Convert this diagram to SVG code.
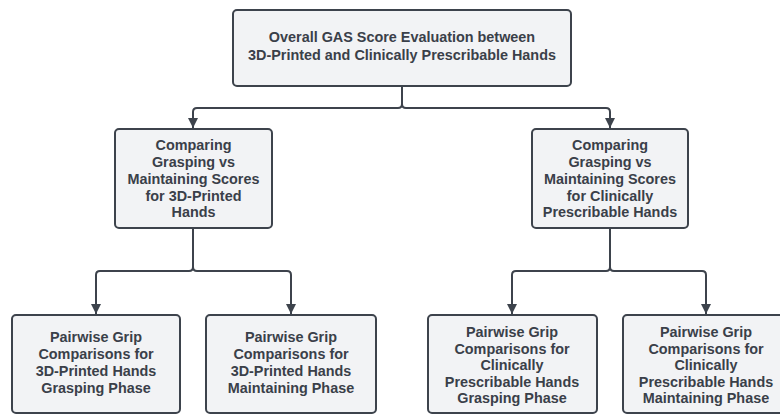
<svg xmlns="http://www.w3.org/2000/svg" width="780" height="416" viewBox="0 0 780 416">
<style>
.box{fill:#f2f3f5;stroke:#3d434c;stroke-width:2}
.t{font-family:"Liberation Sans",Arial,sans-serif;font-weight:bold;font-size:14.4px;fill:#3a4049;text-anchor:middle}
.c{fill:none;stroke:#3d434c;stroke-width:2}
</style>
<defs>
<marker id="arr" viewBox="0 0 10 10" refX="10" refY="5" markerWidth="10" markerHeight="10" markerUnits="userSpaceOnUse" orient="auto">
<path d="M0,0 L10,5 L0,10 Z" fill="#3d434c"/>
</marker>
</defs>
<rect width="780" height="416" fill="#ffffff"/>
<g id="connectors">
<path class="c" d="M402,86 V104 Q402,108 398,108 H197 Q193,108 193,112 V128" marker-end="url(#arr)"/>
<path class="c" d="M402,104 Q402,108 406,108 H606 Q610,108 610,112 V128" marker-end="url(#arr)"/>
<path class="c" d="M193,228 V267 Q193,271 189,271 H100 Q96,271 96,275 V314" marker-end="url(#arr)"/>
<path class="c" d="M193,267 Q193,271 197,271 H287 Q291,271 291,275 V314" marker-end="url(#arr)"/>
<path class="c" d="M610,228 V267 Q610,271 606,271 H516 Q512,271 512,275 V314" marker-end="url(#arr)"/>
<path class="c" d="M610,267 Q610,271 614,271 H702 Q706,271 706,275 V314" marker-end="url(#arr)"/>
</g>
<g id="root">
<rect class="box" x="233" y="10" width="338" height="76" rx="4"/>
<text class="t" x="402" y="42">Overall GAS Score Evaluation between</text>
<text class="t" x="402" y="59.5">3D-Printed and Clinically Prescribable Hands</text>
</g>
<g id="mid-left">
<rect class="box" x="115" y="129" width="157" height="99" rx="4"/>
<text class="t" x="193.5" y="150">Comparing</text>
<text class="t" x="193.5" y="167">Grasping vs</text>
<text class="t" x="193.5" y="184">Maintaining Scores</text>
<text class="t" x="193.5" y="200.5">for 3D-Printed</text>
<text class="t" x="193.5" y="217">Hands</text>
</g>
<g id="mid-right">
<rect class="box" x="532" y="129" width="156" height="99" rx="4"/>
<text class="t" x="610" y="150">Comparing</text>
<text class="t" x="610" y="167">Grasping vs</text>
<text class="t" x="610" y="184">Maintaining Scores</text>
<text class="t" x="610" y="200.5">for Clinically</text>
<text class="t" x="610" y="217">Prescribable Hands</text>
</g>
<g id="leaf1">
<rect class="box" x="12" y="315" width="168" height="98" rx="4"/>
<text class="t" x="96" y="342">Pairwise Grip</text>
<text class="t" x="96" y="359">Comparisons for</text>
<text class="t" x="96" y="376">3D-Printed Hands</text>
<text class="t" x="96" y="393">Grasping Phase</text>
</g>
<g id="leaf2">
<rect class="box" x="206" y="315" width="170" height="98" rx="4"/>
<text class="t" x="291" y="342">Pairwise Grip</text>
<text class="t" x="291" y="359">Comparisons for</text>
<text class="t" x="291" y="376">3D-Printed Hands</text>
<text class="t" x="291" y="393">Maintaining Phase</text>
</g>
<g id="leaf3">
<rect class="box" x="428" y="315" width="169" height="98" rx="4"/>
<text class="t" x="512" y="337">Pairwise Grip</text>
<text class="t" x="512" y="353.5">Comparisons for</text>
<text class="t" x="512" y="370">Clinically</text>
<text class="t" x="512" y="386.5">Prescribable Hands</text>
<text class="t" x="512" y="403">Grasping Phase</text>
</g>
<g id="leaf4">
<rect class="box" x="623" y="315" width="166" height="98" rx="4"/>
<text class="t" x="706" y="337">Pairwise Grip</text>
<text class="t" x="706" y="353.5">Comparisons for</text>
<text class="t" x="706" y="370">Clinically</text>
<text class="t" x="706" y="386.5">Prescribable Hands</text>
<text class="t" x="706" y="403">Maintaining Phase</text>
</g>
</svg>
